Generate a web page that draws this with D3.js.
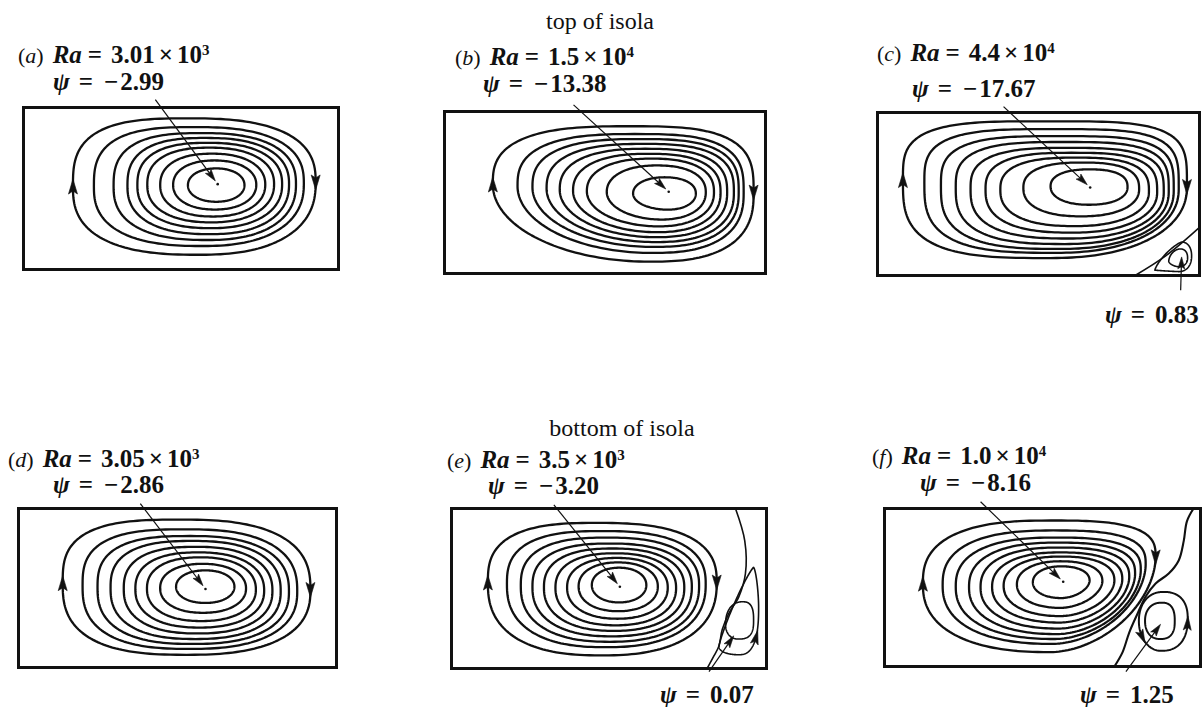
<!DOCTYPE html>
<html><head><meta charset="utf-8">
<script src="https://cdn.jsdelivr.net/npm/d3@7"></script>
<style>html,body{margin:0;padding:0;background:#fff;} text{white-space:pre;}</style>
</head><body><svg id="chart" width="1204" height="707"></svg>
<script>
// ---------------- DATA (domain: x in [0,2], y in [0,1], y up) ----------------
const panelLetters = ["a", "b", "c", "d", "e", "f"];
const raMantissa   = ["3.01", "1.5", "4.4", "3.05", "3.5", "1.0"];
const raExponent   = ["3", "4", "4", "3", "3", "4"];
const psiCentre    = ["2.99", "13.38", "17.67", "2.86", "3.20", "8.16"];   // all negative
const psiEddy      = ["", "", "0.83", "", "0.07", "1.25"];
const headers      = ["top of isola", "bottom of isola"];

const centreX = [1.233, 1.397, 1.321, 1.176, 1.069, 1.131];
const centreY = [0.527, 0.505, 0.540, 0.494, 0.511, 0.536];
const pointerStartX = [0.837, 0.804, 0.783, 0.766, 0.650, 0.608];
const pointerStartY = [1.048, 1.041, 1.036, 1.031, 1.023, 1.043];

// streamline rings, outer -> inner: left, right, top, bottom extents
const ringsA = {L:[0.314,0.447,0.572,0.660,0.723,0.786,0.868,0.950,1.044],
                R:[1.855,1.780,1.730,1.686,1.642,1.591,1.535,1.478,1.403],
                T:[0.933,0.879,0.842,0.812,0.782,0.752,0.715,0.673,0.624],
                B:[0.091,0.145,0.182,0.218,0.255,0.291,0.327,0.370,0.418]};
const ringsB = {L:[0.301,0.455,0.548,0.636,0.718,0.801,0.887,1.011,1.175],
                R:[1.926,1.864,1.833,1.803,1.761,1.720,1.679,1.628,1.566],
                T:[0.909,0.861,0.830,0.800,0.770,0.739,0.709,0.667,0.594],
                B:[0.073,0.127,0.164,0.194,0.224,0.255,0.291,0.333,0.394]};
const ringsC = {L:[0.158,0.291,0.394,0.486,0.578,0.671,0.763,0.906,1.075],
                R:[1.922,1.871,1.840,1.809,1.778,1.737,1.686,1.625,1.553],
                T:[0.946,0.898,0.855,0.819,0.783,0.753,0.723,0.693,0.651],
                B:[0.107,0.139,0.163,0.193,0.227,0.263,0.303,0.363,0.434]};
const ringsD = {L:[0.278,0.403,0.497,0.579,0.662,0.735,0.808,0.891,0.991],
                R:[1.836,1.753,1.701,1.649,1.597,1.545,1.493,1.431,1.358],
                T:[0.930,0.869,0.827,0.796,0.759,0.724,0.693,0.652,0.611],
                B:[0.080,0.117,0.148,0.179,0.214,0.251,0.292,0.344,0.406]};
const ringsE = {L:[0.231,0.352,0.440,0.514,0.587,0.660,0.734,0.807,0.891],
                R:[1.684,1.614,1.572,1.526,1.478,1.426,1.373,1.310,1.237],
                T:[0.910,0.859,0.818,0.781,0.750,0.720,0.691,0.663,0.630],
                B:[0.082,0.133,0.167,0.201,0.235,0.270,0.311,0.358,0.413]};
const ringsF = {L:[0.243,0.368,0.451,0.535,0.608,0.681,0.754,0.838,0.939],
                R:[1.716,1.653,1.622,1.586,1.549,1.505,1.455,1.379,1.298],
                T:[0.924,0.861,0.816,0.784,0.753,0.722,0.696,0.666,0.634],
                B:[0.091,0.143,0.174,0.205,0.240,0.278,0.319,0.371,0.433]};

// secondary (corner) eddies, outer -> inner
const eddyC = {L:[1.723,1.809], R:[1.951,1.926], T:[0.205,0.163], B:[0.024,0.054]};
const eddyE = {L:[1.698,1.740], R:[1.950,1.918], T:[0.632,0.417], B:[0.086,0.184]};
const eddyF = {L:[1.610,1.649], R:[1.919,1.837], T:[0.472,0.404], B:[0.099,0.174]};

// dividing streamlines
const sepC = [[1.60,0.0],[1.79,0.12],[2.0,0.295]];
const sepE = [[1.803,1.0],[1.862,0.798],[1.866,0.591],[1.824,0.448],[1.761,0.345],[1.719,0.244],[1.698,0.141],[1.667,0.080],[1.623,0.0]];
const sepF = [[1.956,1.0],[1.914,0.919],[1.894,0.795],[1.862,0.671],[1.799,0.588],[1.716,0.526],[1.653,0.443],[1.599,0.329],[1.549,0.215],[1.507,0.091],[1.455,0.0]];

// eddy pointer arrows (start, end)
const eddyPtrStart = [null, null, [1.883,-0.090], null, [1.635,-0.020], [1.528,-0.033]];
const eddyPtrEnd   = [null, null, [1.889,0.114], null, [1.792,0.204], [1.747,0.267]];

// ---------------- LAYOUT / STYLE ----------------
const boxes = [
  [23.5,107.5,338.5,269.5],
  [444.5,111.5,765.5,273.5],
  [877.5,112.5,1199.5,275.5],
  [18.5,508.5,336.5,667.5],
  [451.5,508.5,766.5,668.5],
  [884.5,508.5,1200.5,666.5]];
const allRings = [ringsA, ringsB, ringsC, ringsD, ringsE, ringsF];
const allEddies = [null, null, eddyC, null, eddyE, eddyF];
const allSeps = [null, null, sepC, null, sepE, sepF];
const inner21 = {fL:.5,fR:.5,gT:.5,gB:.5,n:[2.1,2.1,2.1,2.1]};
const shapes = [
  {o:{fL:.50,fR:.53,gT:.48,gB:.52,n:[3.0,2.6,2.4,2.6]}, i:inner21},
  {o:{fL:.57,fR:.51,gT:.52,gB:.60,n:[2.8,3.2,2.6,2.0]}, i:{fL:.5,fR:.5,gT:.5,gB:.55,n:[2.1,2.2,2.1,2.0]}},
  {o:{fL:.57,fR:.52,gT:.50,gB:.52,n:[3.5,4.0,2.2,3.2]}, i:{fL:.52,fR:.5,gT:.5,gB:.5,n:[2.3,2.5,2.2,2.2]}},
  {o:{fL:.53,fR:.48,gT:.48,gB:.50,n:[3.0,2.6,2.5,2.7]}, i:inner21},
  {o:{fL:.55,fR:.55,gT:.48,gB:.50,n:[2.8,2.6,2.4,2.5]}, i:inner21},
  {o:{fL:.52,fR:.72,gT:.55,gB:.55,n:[2.6,3.0,1.8,2.4]}, i:{fL:.5,fR:.55,gT:.5,gB:.5,n:[2.1,2.2,1.8,2.1]}}];
const eddyShapes = [null, null,
  {o:{fL:.05,fR:.53,gT:.73,gB:.65,n:[1.3,2.2,2.2,1.2]}, i:{fL:.3,fR:.5,gT:.6,gB:.5,n:[1.8,2.3,2.3,1.6]}},
  null,
  {o:{fL:.10,fR:.55,gT:.87,gB:.50,n:[1.15,1.6,2.6,2.2]}, i:{fL:.4,fR:.5,gT:.6,gB:.45,n:[2.2,2.8,2.8,2.2]}},
  {o:{fL:.50,fR:.55,gT:.50,gB:.45,n:[2.2,2.4,2.4,2.0]}, i:{fL:.5,fR:.5,gT:.55,gB:.5,n:[2.2,2.6,2.6,2.2]}}];
// eddy flow arrows: [ring index, side, y]
const eddyArrows = [[], [], [], [], [[0,"R",0.197]], [[0,"R",0.271],[0,"L",0.187]]];

const labelPos = [[18,63],[455,65],[877,61],[8,467],[447,468],[872,464]];
const psiPos   = [[53,90],[483,92],[912,97],[53,493],[488,494],[920,491]];
const eddyLabelPos = [null,null,[1105,323],null,[660,703],[1080,703]];
const headerPos = [[600,29],[622,436]];

const svg = d3.select("#chart");
const FONT = "'Liberation Serif', 'Times New Roman', serif";
const FS = 25;
const N = 48;

function lerp(a,b,t){return a+(b-a)*t;}
function mixShape(o,i,t){
  return {fL:lerp(o.fL,i.fL,t), fR:lerp(o.fR,i.fR,t), gT:lerp(o.gT,i.gT,t), gB:lerp(o.gB,i.gB,t),
          n:o.n.map((v,k)=>lerp(v,i.n[k],t))};
}
function pw(v,n){return Math.pow(Math.max(v,0),2/n);}
function ringPts(L,R,T,B,sh){
  const yl=B+sh.fL*(T-B), yr=B+sh.fR*(T-B);
  const xt=L+sh.gT*(R-L), xb=L+sh.gB*(R-L);
  const pts=[]; const h=Math.PI/2;
  for(let k=0;k<N;k++){const th=k/N*h; pts.push([xt-(xt-L)*pw(Math.cos(th),sh.n[0]), yl+(T-yl)*pw(Math.sin(th),sh.n[0])]);}
  for(let k=0;k<N;k++){const th=(1-k/N)*h; pts.push([xt+(R-xt)*pw(Math.cos(th),sh.n[1]), yr+(T-yr)*pw(Math.sin(th),sh.n[1])]);}
  for(let k=0;k<N;k++){const th=k/N*h; pts.push([xb+(R-xb)*pw(Math.cos(th),sh.n[2]), yr-(yr-B)*pw(Math.sin(th),sh.n[2])]);}
  for(let k=0;k<N;k++){const th=(1-k/N)*h; pts.push([xb-(xb-L)*pw(Math.cos(th),sh.n[3]), yl-(yl-B)*pw(Math.sin(th),sh.n[3])]);}
  return pts;
}
function arrowHead(g,x,y,dx,dy,len,w,centred){
  const m=Math.hypot(dx,dy), ux=dx/m, uy=dy/m, px=-uy, py=ux;
  let tx=x, ty=y;
  if(centred){tx=x+ux*len/2; ty=y+uy*len/2;}
  const bx=tx-ux*len, by=ty-uy*len;
  const nx=bx+ux*len*0.2, ny=by+uy*len*0.2;
  g.append("path")
    .attr("d",`M${tx},${ty}L${bx+px*w/2},${by+py*w/2}L${nx},${ny}L${bx-px*w/2},${by-py*w/2}Z`)
    .attr("fill","#111").attr("stroke","#111").attr("stroke-width",0.6).attr("stroke-linejoin","round");
}
function pointer(g,x0,y0,x1,y1,short){
  const dx=x1-x0, dy=y1-y0, m=Math.hypot(dx,dy);
  const ex=x1-dx/m*short, ey=y1-dy/m*short;
  g.append("line").attr("x1",x0).attr("y1",y0).attr("x2",ex-dx/m*6).attr("y2",ey-dy/m*6)
    .attr("stroke","#111").attr("stroke-width",1.2);
  arrowHead(g,ex,ey,dx,dy,12,7,false);
}
// text made of pieces: [string, italic, bold, dx, size, dy]
function richText(x,y,pieces){
  const t = svg.append("text").attr("x",x).attr("y",y).attr("font-family",FONT)
    .attr("font-size",FS).attr("fill","#111");
  pieces.forEach(([s,it,bd,dx,sz,dy])=>{
    const sp = t.append("tspan").text(s);
    if(it) sp.attr("font-style","italic");
    if(bd) sp.attr("font-weight","bold");
    if(dx) sp.attr("dx",dx);
    if(sz) sp.attr("font-size",sz);
    if(dy) sp.attr("dy",dy);
  });
  return t;
}

panelLetters.forEach((letter, p) => {
  const [x0,y0,x1,y1] = boxes[p];
  const xs = d3.scaleLinear().domain([0,2]).range([x0,x1]);
  const ys = d3.scaleLinear().domain([0,1]).range([y1,y0]);
  const line = d3.line().x(d=>xs(d[0])).y(d=>ys(d[1])).curve(d3.curveLinearClosed);
  const g = svg.append("g");
  const rings = allRings[p], nR = rings.L.length;
  let outerPts = null;
  for(let k=0;k<nR;k++){
    const sh = mixShape(shapes[p].o, shapes[p].i, k/(nR-1));
    const pts = ringPts(rings.L[k], rings.R[k], rings.T[k], rings.B[k], sh);
    if(k===0) outerPts = pts;
    g.append("path").attr("d", line(pts)).attr("fill","none").attr("stroke","#111")
      .attr("stroke-width",2.3).attr("stroke-linejoin","round");
  }
  g.append("rect").attr("x",xs(0)).attr("y",ys(1)).attr("width",xs(2)-xs(0)).attr("height",ys(0)-ys(1))
    .attr("fill","none").attr("stroke","#111").attr("stroke-width",3);
  if(allSeps[p]){
    g.append("path").attr("d", d3.line().x(d=>xs(d[0])).y(d=>ys(d[1])).curve(d3.curveCatmullRom)(allSeps[p]))
      .attr("fill","none").attr("stroke","#111").attr("stroke-width", p===5?2.1:1.6);
  }
  const ed = allEddies[p];
  const eddyPts = [];
  if(ed){
    for(let k=0;k<ed.L.length;k++){
      const sh = k===0 ? eddyShapes[p].o : eddyShapes[p].i;
      const pts = ringPts(ed.L[k], ed.R[k], ed.T[k], ed.B[k], sh);
      eddyPts.push(pts);
      g.append("path").attr("d", line(pts)).attr("fill","none").attr("stroke","#111")
        .attr("stroke-width", p===5?2.0:1.6).attr("stroke-linejoin","round");
    }
  }
  const P = outerPts.map(d=>[xs(d[0]),ys(d[1])]);
  const M = P.length;
  [0, 2*N].forEach(idx=>{
    const a=P[(idx-2+M)%M], b=P[(idx+2)%M];
    arrowHead(g,P[idx][0],P[idx][1],b[0]-a[0],b[1]-a[1],15,9,true);
  });
  eddyArrows[p].forEach(([ri, side, yv])=>{
    const E = eddyPts[ri].map(d=>[xs(d[0]),ys(d[1])]);
    const cxE = d3.mean(E, d=>d[0]);
    let best=-1, bd=1e9;
    E.forEach((d,i)=>{ if((side==="R")===(d[0]>cxE)){ const dd=Math.abs(d[1]-ys(yv)); if(dd<bd){bd=dd;best=i;} } });
    const L2=E.length, a=E[(best+2)%L2], b=E[(best-2+L2)%L2];
    arrowHead(g,E[best][0],E[best][1],b[0]-a[0],b[1]-a[1],14,8,true);
  });
  pointer(g, xs(pointerStartX[p]), ys(pointerStartY[p]), xs(centreX[p]), ys(centreY[p]), 4);
  g.append("circle").attr("cx",xs(centreX[p])).attr("cy",ys(centreY[p])).attr("r",1.3).attr("fill","#111");
  if(eddyPtrStart[p]){
    const s=eddyPtrStart[p], e=eddyPtrEnd[p];
    pointer(g, xs(s[0]), ys(s[1]), xs(e[0]), ys(e[1]), 0);
  }

  // labels
  richText(labelPos[p][0], labelPos[p][1], [
    ["(",false,false,0,22], [letter,true,false,0,22], [")",false,false,0,22],
    ["Ra",true,true,9], ["=",false,true,6], [raMantissa[p],false,true,9],
    ["\u00d7",false,true,4], ["10",false,true,4], [raExponent[p],false,true,0,15,-8]]);
  richText(psiPos[p][0], psiPos[p][1], [
    ["\u03c8",true,true,0], ["=",false,true,9], ["\u2212",false,true,11], [psiCentre[p],false,true,2]]);
  if(psiEddy[p]){
    richText(eddyLabelPos[p][0], eddyLabelPos[p][1], [
      ["\u03c8",true,true,0], ["=",false,true,9], [psiEddy[p],false,true,10]]);
  }
});

headers.forEach((h,i)=>{
  svg.append("text").attr("x",headerPos[i][0]).attr("y",headerPos[i][1]).attr("text-anchor","middle")
    .attr("font-family",FONT).attr("font-size",24).attr("fill","#111").text(h);
});
</script></body></html>
